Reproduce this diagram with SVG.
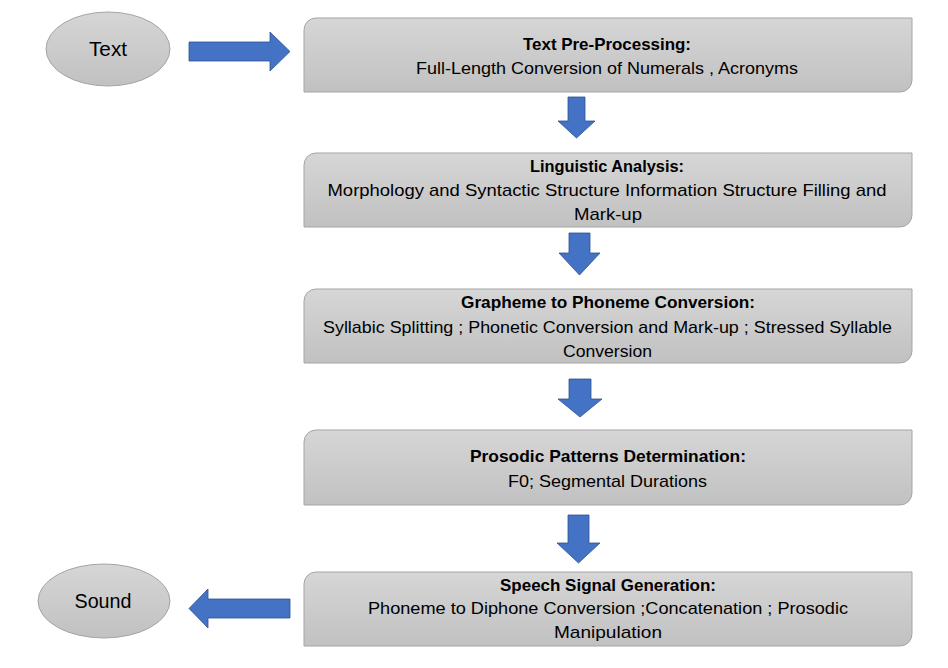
<svg xmlns="http://www.w3.org/2000/svg" width="948" height="668" viewBox="0 0 948 668">
<defs>
<linearGradient id="g" x1="0" y1="0" x2="0" y2="1">
<stop offset="0" stop-color="#d6d6d6"/>
<stop offset="1" stop-color="#c1c1c1"/>
</linearGradient>
<style>
.box{fill:url(#g);stroke:#a5a5a5;stroke-width:1}
.ell{fill:url(#g);stroke:#a5a5a5;stroke-width:1}
.arr{fill:#4472c4;stroke:#2f528f;stroke-width:0.8}
text{font-family:"Liberation Sans",Arial,sans-serif;font-size:17px;fill:#000;text-anchor:middle}
.b{font-weight:bold}
.e{font-size:20px}
</style>
</defs>
<rect width="948" height="668" fill="#fff"/>
<g id="connectors">
<path class="arr" d="M189,42 H270 V32 L290,51.5 L270,71 V61 H189 Z"/>
<path class="arr" d="M568,97 H585 V121 H595 L576.5,138 L558,121 H568 Z"/>
<path class="arr" d="M569,233 H590 V253 H600 L579.5,275 L559,253 H569 Z"/>
<path class="arr" d="M569,379 H591 V399 H602 L580,417 L558,399 H569 Z"/>
<path class="arr" d="M568,515 H589 V543 H600 L578.5,563 L557,543 H568 Z"/>
<path class="arr" d="M290,599 H208 V589 L189,608.5 L208,628 V618 H290 Z"/>
</g>
<g id="text-node">
<ellipse class="ell" cx="108" cy="49" rx="62" ry="37"/>
<text class="e" x="108" y="56" textLength="38" lengthAdjust="spacingAndGlyphs">Text</text>
</g>
<g id="sound-node">
<ellipse class="ell" cx="104" cy="601" rx="66" ry="37"/>
<text class="e" x="103" y="608" textLength="57" lengthAdjust="spacingAndGlyphs">Sound</text>
</g>
<g id="preprocessing">
<path class="box" d="M316,18 H912 V80 A12,12 0 0 1 900,92 H304 V30 A12,12 0 0 1 316,18 Z"/>
<text class="b" x="607" y="50" textLength="168" lengthAdjust="spacingAndGlyphs">Text Pre-Processing:</text>
<text x="607" y="74" textLength="382" lengthAdjust="spacingAndGlyphs">Full-Length Conversion of Numerals , Acronyms</text>
</g>
<g id="linguistic">
<path class="box" d="M316,153 H912 V215 A12,12 0 0 1 900,227 H304 V165 A12,12 0 0 1 316,153 Z"/>
<text class="b" x="607" y="172" textLength="154" lengthAdjust="spacingAndGlyphs">Linguistic Analysis:</text>
<text x="607" y="196" textLength="559" lengthAdjust="spacingAndGlyphs">Morphology and Syntactic Structure Information Structure Filling and</text>
<text x="608" y="220" textLength="68" lengthAdjust="spacingAndGlyphs">Mark-up</text>
</g>
<g id="grapheme">
<path class="box" d="M316,289 H912 V351 A12,12 0 0 1 900,363 H304 V301 A12,12 0 0 1 316,289 Z"/>
<text class="b" x="608" y="308" textLength="294" lengthAdjust="spacingAndGlyphs">Grapheme to Phoneme Conversion:</text>
<text x="607.5" y="333" textLength="569" lengthAdjust="spacingAndGlyphs">Syllabic Splitting ; Phonetic Conversion and Mark-up ; Stressed Syllable</text>
<text x="607.5" y="357" textLength="89" lengthAdjust="spacingAndGlyphs">Conversion</text>
</g>
<g id="prosodic">
<path class="box" d="M316,430 H912 V493 A12,12 0 0 1 900,505 H304 V442 A12,12 0 0 1 316,430 Z"/>
<text class="b" x="608" y="462" textLength="276" lengthAdjust="spacingAndGlyphs">Prosodic Patterns Determination:</text>
<text x="607.5" y="487" textLength="199" lengthAdjust="spacingAndGlyphs">F0; Segmental Durations</text>
</g>
<g id="speech">
<path class="box" d="M316,572 H912 V634 A12,12 0 0 1 900,646 H304 V584 A12,12 0 0 1 316,572 Z"/>
<text class="b" x="608" y="591" textLength="216" lengthAdjust="spacingAndGlyphs">Speech Signal Generation:</text>
<text x="608" y="614" textLength="480" lengthAdjust="spacingAndGlyphs">Phoneme to Diphone Conversion ;Concatenation ; Prosodic</text>
<text x="608" y="638" textLength="108" lengthAdjust="spacingAndGlyphs">Manipulation</text>
</g>
</svg>
